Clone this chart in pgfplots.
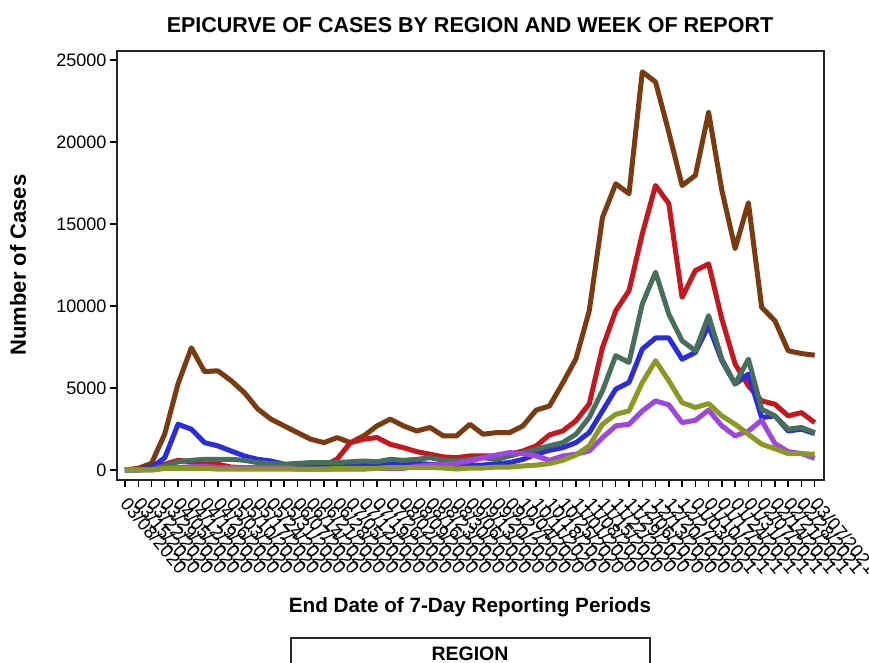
\documentclass[border=0pt]{standalone}
\usepackage{fontspec}
\setmainfont{Liberation Sans}
\usepackage{pgfplots}
\usepackage{pgfplotstable}
\pgfplotsset{compat=1.18}

\definecolor{cbrown}{HTML}{7B3A10}
\definecolor{cred}{HTML}{C8161E}
\definecolor{cgreen}{HTML}{47705A}
\definecolor{cblue}{HTML}{2B2BE0}
\definecolor{colive}{HTML}{8A9A20}
\definecolor{cpurple}{HTML}{A045E0}

% weekly counts by region, week index 0..52
\pgfplotstableread{
i brown red green blue olive purple
0 0 0 0 0 0 0
1 100 50 0 0 0 0
2 400 100 50 150 0 0
3 2200 350 250 750 100 100
4 5250 590 500 2790 100 150
5 7450 500 590 2490 100 200
6 6000 400 650 1670 100 230
7 6050 350 650 1470 50 150
8 5450 180 650 1160 50 150
9 4720 150 590 855 50 150
10 3730 150 450 650 50 150
11 3100 180 400 550 50 150
12 2690 100 350 350 50 150
13 2280 150 400 250 50 50
14 1880 150 450 250 50 50
15 1670 250 450 250 50 50
16 1975 670 450 250 100 50
17 1670 1670 500 300 100 50
18 2080 1880 550 300 100 50
19 2690 1980 500 350 100 100
20 3100 1570 650 400 150 100
21 2690 1360 590 350 150 100
22 2380 1120 650 400 150 230
23 2590 960 750 350 150 300
24 2080 800 590 300 120 350
25 2080 750 550 300 60 400
26 2790 860 650 300 120 550
27 2180 860 750 300 120 750
28 2280 855 650 390 180 915
29 2280 960 855 450 180 1060
30 2690 1160 1060 650 245 1000
31 3650 1470 1260 960 300 855
32 3900 2140 1470 1200 390 590
33 5300 2380 1670 1360 590 855
34 6780 3000 2180 1670 915 960
35 9700 4030 3200 2280 1470 1160
36 15400 7470 4830 3600 2790 1975
37 17450 9710 6970 4930 3400 2690
38 16850 10940 6560 5340 3600 2790
39 24280 14400 10120 7370 5340 3600
40 23660 17350 12060 8050 6660 4215
41 20600 16240 9510 8050 5440 3970
42 17350 10530 7880 6760 4110 2890
43 17960 12160 7270 7170 3810 3030
44 21800 12570 9410 8800 4050 3650
45 17050 9200 6760 6660 3300 2690
46 13500 6460 5240 5240 2790 2080
47 16300 5130 6760 5850 2180 2380
48 9920 4215 3710 3200 1570 3030
49 9100 4010 3300 3300 1300 1610
50 7270 3300 2490 2380 1000 1120
51 7100 3500 2590 2490 1000 1000
52 7000 2890 2280 2220 960 715
}\cases

\begin{document}
\begin{tikzpicture}[x=1pt,y=1pt]
\begin{axis}[
  scale only axis, width=707pt, height=429pt,
  xmin=-0.6, xmax=52.7, ymin=-610, ymax=25550,
  axis line style={line width=1.6pt, black!85},
  tick style={line width=1.4pt, black},
  tick align=outside, tick pos=left,
  major tick length=7pt,
  xtick={0,...,52},
  xticklabels={03/08/2020,03/15/2020,03/22/2020,03/29/2020,04/05/2020,04/12/2020,04/19/2020,04/26/2020,05/03/2020,05/10/2020,05/17/2020,05/24/2020,05/31/2020,06/07/2020,06/14/2020,06/21/2020,06/28/2020,07/05/2020,07/12/2020,07/19/2020,07/26/2020,08/02/2020,08/09/2020,08/16/2020,08/23/2020,08/30/2020,09/06/2020,09/13/2020,09/20/2020,09/27/2020,10/04/2020,10/11/2020,10/18/2020,10/25/2020,11/01/2020,11/08/2020,11/15/2020,11/22/2020,11/29/2020,12/06/2020,12/13/2020,12/20/2020,12/27/2020,01/03/2021,01/10/2021,01/17/2021,01/24/2021,01/31/2021,02/07/2021,02/14/2021,02/21/2021,02/28/2021,03/07/2021},
  xticklabel style={rotate=-50, anchor=north west, inner sep=1pt, xshift=9pt, yshift=-1pt, font=\fontsize{18.3}{20}\selectfont},
  ytick={0,5000,10000,15000,20000,25000},
  scaled y ticks=false,
  yticklabel style={font=\fontsize{18}{20}\selectfont},
  /pgf/number format/set thousands separator={},
  /pgf/number format/assume math mode=true,
  every axis plot/.append style={line width=5pt, line join=round, mark=none},
]
\coordinate (O) at (rel axis cs:0,0);
\addplot[cbrown] table[x=i,y=brown] {\cases};
\addplot[cred] table[x=i,y=red] {\cases};
\addplot[cblue] table[x=i,y=blue] {\cases};
\addplot[cgreen] table[x=i,y=green] {\cases};
\addplot[cpurple] table[x=i,y=purple] {\cases};
\addplot[colive] table[x=i,y=olive] {\cases};
\end{axis}
% picture frame: axis box lower-left corner sits at (117,183) of an 869x663 page
\node[font=\fontsize{21.5}{24}\selectfont\bfseries] at ([shift={(353,455)}]O) {EPICURVE OF CASES BY REGION AND WEEK OF REPORT};
\node[font=\fontsize{22}{24}\selectfont\bfseries, rotate=90] at ([shift={(-99,215)}]O) {Number of Cases};
\node[font=\fontsize{20.7}{24}\selectfont\bfseries] at ([shift={(353,-127)}]O) {End Date of 7-Day Reporting Periods};
\draw[line width=1.6pt, black!85] ([shift={(174,-203)}]O) rectangle ([shift={(533,-158)}]O);
\node[font=\fontsize{19.5}{22}\selectfont\bfseries] at ([shift={(353,-174)}]O) {REGION};
\pgfresetboundingbox
\path[use as bounding box] ([shift={(-117,-183)}]O) rectangle ([shift={(752,480)}]O);
\end{tikzpicture}
\end{document}
